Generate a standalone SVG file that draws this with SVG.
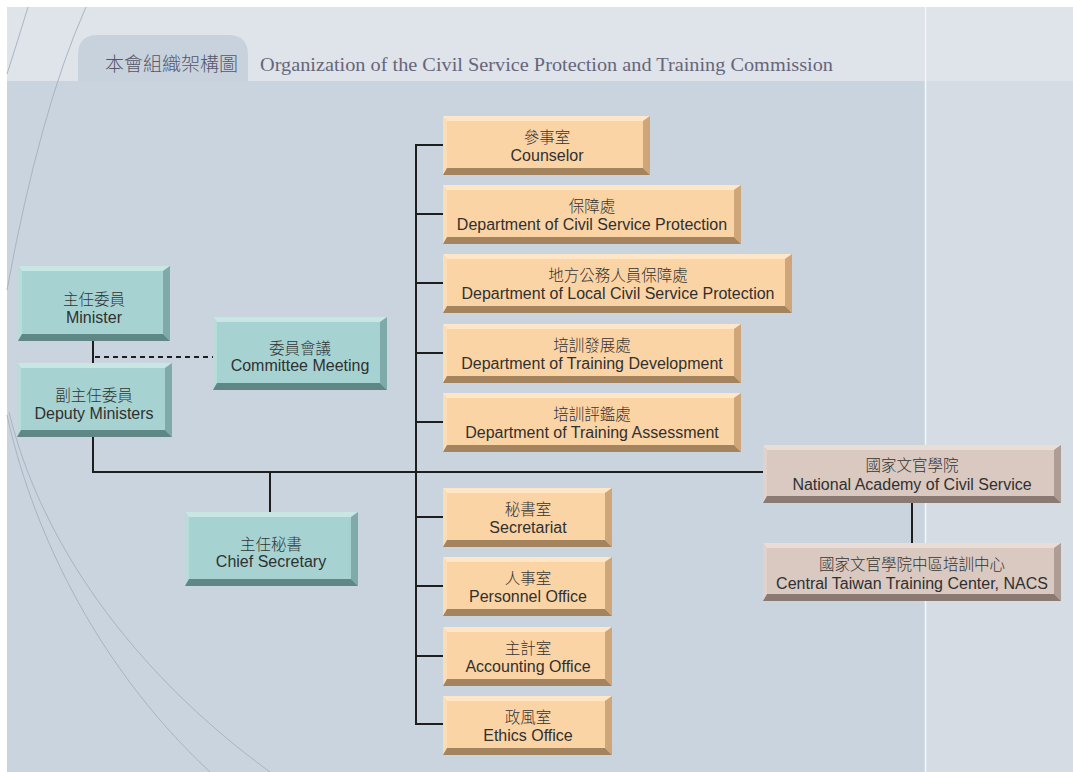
<svg xmlns="http://www.w3.org/2000/svg" xmlns:xlink="http://www.w3.org/1999/xlink" width="1073" height="772" viewBox="0 0 1073 772">
<style>
.txt{font-family:"Liberation Sans","Noto Sans CJK TC",Arial,sans-serif;font-size:16px;fill:#303030;text-anchor:middle}
.cjk{font-family:"Noto Sans CJK TC","Liberation Sans",sans-serif;font-size:15.5px;font-weight:300;fill:#333;text-anchor:middle}
.tF{fill:#a6d3d2}.tT{fill:#c8e6e3}.tL{fill:#b7dcda}.tR{fill:#80aaa9}.tB{fill:#5f8786}
.oF{fill:#fbd4a6}.oT{fill:#fee6c6}.oL{fill:#fcdcb4}.oR{fill:#cfa57a}.oB{fill:#a4835f}
.nF{fill:#d9c9c1}.nT{fill:#e9ddd6}.nL{fill:#e1d3cc}.nR{fill:#ae9d95}.nB{fill:#8a7a73}
.ln{stroke:#1e1e1e;stroke-width:2;fill:none}
.dash{stroke:#1e1e1e;stroke-width:2;fill:none;stroke-dasharray:5 4}
.arc{stroke:#a4b0bd;stroke-width:0.9;fill:none}
</style>
<defs>
<g id="o298">
<rect class="oF" width="298" height="59"/>
<polygon class="oT" points="0,0 298,0 291,5 4,5"/>
<polygon class="oL" points="0,0 4,5 4,52 0,59"/>
<polygon class="oR" points="298,0 298,59 291,52 291,5"/>
<polygon class="oB" points="0,59 298,59 291,52 4,52"/>
</g>
<g id="o169">
<rect class="oF" width="169" height="59"/>
<polygon class="oT" points="0,0 169,0 162,5 4,5"/>
<polygon class="oL" points="0,0 4,5 4,52 0,59"/>
<polygon class="oR" points="169,0 169,59 162,52 162,5"/>
<polygon class="oB" points="0,59 169,59 162,52 4,52"/>
</g>
<g id="n298">
<rect class="nF" width="298" height="58"/>
<polygon class="nT" points="0,0 298,0 291,5 4,5"/>
<polygon class="nL" points="0,0 4,5 4,51 0,58"/>
<polygon class="nR" points="298,0 298,58 291,51 291,5"/>
<polygon class="nB" points="0,58 298,58 291,51 4,51"/>
</g>
</defs>

<!-- background -->
<rect width="1073" height="772" fill="#ffffff"/>
<rect x="7" y="7" width="1066" height="765" fill="#c9d4de"/>
<rect x="7" y="7" width="1066" height="74" fill="#dfe3ea"/>
<rect x="925" y="81" width="148" height="691" fill="#d5dce4"/>
<line x1="925.5" y1="7" x2="925.5" y2="772" stroke="#f4f6f9" stroke-width="1.5"/>
<path d="M78 81 V55 Q78 35 98 35 H228 Q248 35 248 55 V81 Z" fill="#c8d2dc"/>
<path class="arc" d="M28 7 Q18 40 7 74"/>
<path class="arc" d="M86 7 Q40 110 7 290"/>
<path class="arc" d="M7 415 C30 520 90 660 210 772"/>
<path class="arc" d="M9 412 C40 540 130 670 270 772"/>

<text x="105" y="71" style="font-family:'Noto Sans CJK TC',sans-serif;font-size:19px;font-weight:300;fill:#55566a">本會組織架構圖</text>
<text x="260" y="71" textLength="573" lengthAdjust="spacingAndGlyphs" style="font-family:'Liberation Serif','Times New Roman',serif;font-size:19.5px;fill:#66667a">Organization of the Civil Service Protection and Training Commission</text>

<!-- connectors -->
<g id="connectors">
<path class="ln" d="M93 341 V363"/>
<path class="ln" d="M93 437 V472 H763"/>
<path class="ln" d="M270 472 V512"/>
<path class="ln" d="M416 145 V724"/>
<path class="ln" d="M415 145 H443 M416 214 H443 M416 283 H443 M416 353 H443 M416 422 H443 M416 517 H443 M416 586 H443 M416 656 H443 M415 724 H443"/>
<path class="ln" d="M912 503 V543"/>
<path class="dash" d="M95 357 H213"/>
</g>

<!-- teal nodes -->
<g id="minister" transform="translate(18,266)">
<rect class="tF" width="152" height="75"/>
<polygon class="tT" points="0,0 152,0 145,5 4,5"/>
<polygon class="tL" points="0,0 4,5 4,68 0,75"/>
<polygon class="tR" points="152,0 152,75 145,68 145,5"/>
<polygon class="tB" points="0,75 152,75 145,68 4,68"/>
<text class="cjk" x="76" y="39">主任委員</text>
<text class="txt" x="76" y="57">Minister</text>
</g>
<g id="deputy" transform="translate(17,363)">
<rect class="tF" width="155" height="74"/>
<polygon class="tT" points="0,0 155,0 148,5 4,5"/>
<polygon class="tL" points="0,0 4,5 4,67 0,74"/>
<polygon class="tR" points="155,0 155,74 148,67 148,5"/>
<polygon class="tB" points="0,74 155,74 148,67 4,67"/>
<text class="cjk" x="77" y="38">副主任委員</text>
<text class="txt" x="77" y="56">Deputy Ministers</text>
</g>
<g id="committee" transform="translate(213,317)">
<rect class="tF" width="174" height="73"/>
<polygon class="tT" points="0,0 174,0 167,5 4,5"/>
<polygon class="tL" points="0,0 4,5 4,66 0,73"/>
<polygon class="tR" points="174,0 174,73 167,66 167,5"/>
<polygon class="tB" points="0,73 174,73 167,66 4,66"/>
<text class="cjk" x="87" y="37">委員會議</text>
<text class="txt" x="87" y="54">Committee Meeting</text>
</g>
<g id="chief" transform="translate(185,512)">
<rect class="tF" width="173" height="74"/>
<polygon class="tT" points="0,0 173,0 166,5 4,5"/>
<polygon class="tL" points="0,0 4,5 4,67 0,74"/>
<polygon class="tR" points="173,0 173,74 166,67 166,5"/>
<polygon class="tB" points="0,74 173,74 166,67 4,67"/>
<text class="cjk" x="86" y="38">主任秘書</text>
<text class="txt" x="86" y="55">Chief Secretary</text>
</g>

<!-- orange nodes -->
<g id="counselor" transform="translate(443,116)">
<rect class="oF" width="207" height="59"/>
<polygon class="oT" points="0,0 207,0 200,5 4,5"/>
<polygon class="oL" points="0,0 4,5 4,52 0,59"/>
<polygon class="oR" points="207,0 207,59 200,52 200,5"/>
<polygon class="oB" points="0,59 207,59 200,52 4,52"/>
<text class="cjk" x="104" y="27">參事室</text>
<text class="txt" x="104" y="45">Counselor</text>
</g>
<g id="dcsp" transform="translate(443,185)">
<use xlink:href="#o298" href="#o298"/>
<text class="cjk" x="149" y="27">保障處</text>
<text class="txt" x="149" y="45">Department of Civil Service Protection</text>
</g>
<g id="local" transform="translate(443,254)">
<rect class="oF" width="349" height="59"/>
<polygon class="oT" points="0,0 349,0 342,5 4,5"/>
<polygon class="oL" points="0,0 4,5 4,52 0,59"/>
<polygon class="oR" points="349,0 349,59 342,52 342,5"/>
<polygon class="oB" points="0,59 349,59 342,52 4,52"/>
<text class="cjk" x="175" y="27">地方公務人員保障處</text>
<text class="txt" x="175" y="45">Department of Local Civil Service Protection</text>
</g>
<g id="tdev" transform="translate(443,324)">
<use xlink:href="#o298" href="#o298"/>
<text class="cjk" x="149" y="27">培訓發展處</text>
<text class="txt" x="149" y="45">Department of Training Development</text>
</g>
<g id="tassess" transform="translate(443,393)">
<use xlink:href="#o298" href="#o298"/>
<text class="cjk" x="149" y="27">培訓評鑑處</text>
<text class="txt" x="149" y="45">Department of Training Assessment</text>
</g>
<g id="secretariat" transform="translate(443,488)">
<use xlink:href="#o169" href="#o169"/>
<text class="cjk" x="85" y="27">秘書室</text>
<text class="txt" x="85" y="45">Secretariat</text>
</g>
<g id="personnel" transform="translate(443,557)">
<use xlink:href="#o169" href="#o169"/>
<text class="cjk" x="85" y="27">人事室</text>
<text class="txt" x="85" y="45">Personnel Office</text>
</g>
<g id="accounting" transform="translate(443,627)">
<use xlink:href="#o169" href="#o169"/>
<text class="cjk" x="85" y="27">主計室</text>
<text class="txt" x="85" y="45">Accounting Office</text>
</g>
<g id="ethics" transform="translate(443,696)">
<use xlink:href="#o169" href="#o169"/>
<text class="cjk" x="85" y="27">政風室</text>
<text class="txt" x="85" y="45">Ethics Office</text>
</g>

<!-- tan nodes -->
<g id="academy" transform="translate(763,445)">
<use xlink:href="#n298" href="#n298"/>
<text class="cjk" x="149" y="26">國家文官學院</text>
<text class="txt" x="149" y="45">National Academy of Civil Service</text>
</g>
<g id="central" transform="translate(763,543)">
<use xlink:href="#n298" href="#n298"/>
<text class="cjk" x="149" y="27">國家文官學院中區培訓中心</text>
<text class="txt" x="149" y="46">Central Taiwan Training Center, NACS</text>
</g>
</svg>
